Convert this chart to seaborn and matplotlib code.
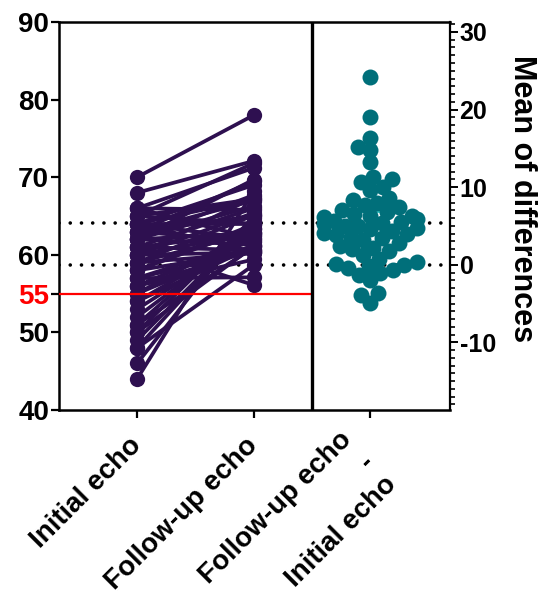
import numpy as np
import pandas as pd
import matplotlib
matplotlib.use("Agg")
import matplotlib.pyplot as plt
from matplotlib.ticker import MultipleLocator
from matplotlib.transforms import Affine2D
import seaborn as sns

# --------------------------------------------------
# DATA (paired echo values, one pair per patient)
# --------------------------------------------------

initial_echo = [44, 46, 48, 49, 50, 51, 50, 48, 52, 51, 53, 54,
                70, 55, 62, 54, 65, 60, 56, 58, 63, 59, 62, 55,
                66, 61, 57, 60, 64, 56, 58, 68, 59, 62, 57, 63,
                64, 60, 56, 65, 61, 58, 63, 59, 62, 64, 60, 66,
                57, 61, 65, 62, 63, 64, 66, 64, 61]

followup_echo = [68.2, 65.1, 64.4, 64.2, 64.8, 64.2, 61.1, 58.7, 63.3,
                 61.0, 62.6, 62.6, 78.0, 63.3, 69.7, 61.1, 71.8, 67.4,
                 62.3, 63.9, 69.5, 65.1, 67.7, 61.3, 71.2, 66.0, 61.8,
                 65.4, 69.0, 60.6, 63.5, 72.1, 62.9, 66.3, 60.6, 67.0,
                 67.2, 62.8, 59.4, 67.2, 62.8, 60.4, 65.0, 60.2, 62.8,
                 64.0, 60.3, 65.8, 57.1, 60.6, 64.0, 61.3, 61.7, 62.0,
                 62.1, 60.4, 56.1]

group_labels = ["Initial echo", "Follow-up echo",
                "Follow-up echo\n-\nInitial echo"]
cutoff = 55

purple = "#2e1050"
teal = "#006f7a"
cyan = "#3cc8c8"

# --------------------------------------------------
# STYLE
# --------------------------------------------------

sns.set_style("ticks")
plt.rcParams["font.family"] = ["Liberation Sans", "DejaVu Sans"]
plt.rcParams["font.weight"] = "bold"
for key in ["text.color", "axes.labelcolor", "xtick.color",
            "ytick.color", "axes.edgecolor"]:
    plt.rcParams[key] = "black"

initial = np.array(initial_echo, dtype=float)
followup = np.array(followup_echo, dtype=float)
diffs = followup - initial
n = len(initial)

df = pd.DataFrame({
    "subject": np.tile(np.arange(n), 2),
    "group": np.repeat([0, 1], n),
    "value": np.concatenate([initial, followup]),
})

x_lo, x_sep, x_hi = -0.67, 1.5, 2.68
y_lo, y_hi = 40, 90

fig = plt.figure(figsize=(5.4, 5.99), dpi=100)
ax = fig.add_axes([0.109, 0.3155, 0.724, 0.6477])

# mean lines of both groups (dotted)
for m in [initial.mean(), followup.mean()]:
    ax.axhline(m, color="black", lw=2.6, linestyle=(0, (0.01, 3.1)),
               dash_capstyle="round", zorder=1)

# paired lines
sns.lineplot(data=df, x="group", y="value", units="subject",
             estimator=None, color=purple, linewidth=2.7,
             marker="o", markersize=11, markeredgewidth=0,
             ax=ax, zorder=3)

# cut-off line
ax.hlines(cutoff, x_lo, x_sep, color="red", lw=1.6, zorder=4)
ax.axvline(x_sep, color="black", lw=2.4, zorder=5)

ax.set_xlim(x_lo, x_hi)
ax.set_ylim(y_lo, y_hi)
ax.set_yticks([40, 50, 55, 60, 70, 80, 90])
ax.set_yticklabels(["40", "50", "55", "60", "70", "80", "90"],
                   fontsize=20, fontweight="bold")
ax.get_yticklabels()[2].set_color("red")
ax.yaxis.get_major_ticks()[2].tick1line.set_visible(False)
ax.tick_params(axis="y", length=6, width=1.6, pad=1)

ax.set_xticks([0, 1, 2])
ax.tick_params(axis="x", length=6, width=1.6, pad=17)
ax.set_xticklabels(group_labels, fontsize=20, fontweight="bold",
                   rotation=45, ha="right", va="center",
                   rotation_mode="anchor", linespacing=1.28)
# the three-line label sits a bit lower in the original
ax.xaxis.get_major_ticks()[2].set_pad(29)
ax.set_xlabel("")
ax.set_ylabel("")

for side in ["left", "top", "bottom"]:
    ax.spines[side].set_linewidth(1.8)
ax.spines["right"].set_visible(False)

# --------------------------------------------------
# DIFFERENCES ON THE RIGHT AXIS
# --------------------------------------------------

ax2 = ax.twinx()
ci = 1.96 * diffs.std(ddof=1) / np.sqrt(n)
ax2.errorbar([2], [diffs.mean()], yerr=[ci], color=cyan, lw=1.6,
             capsize=14, capthick=1.6, zorder=1)

# swarm spacing is computed for slightly smaller dots, then the dots
# are drawn larger so they overlap like the original scatter
swarm_size = 8.8
sns.swarmplot(x=np.full(n, 2.0), y=diffs, native_scale=True,
              color=teal, size=swarm_size, linewidth=0, ax=ax2, zorder=3)
dots = ax2.collections[-1]
dots.set_paths([p.transformed(Affine2D().scale(11.5 / swarm_size))
                for p in dots.get_paths()])

ax2.set_xlim(x_lo, x_hi)
ax2.set_ylim(y_lo - initial.mean(), y_hi - initial.mean())
ax2.set_yticks([-10, 0, 10, 20, 30])
ax2.set_yticklabels(["-10", "0", "10", "20", "30"],
                    fontsize=18, fontweight="bold")
ax2.yaxis.set_minor_locator(MultipleLocator(1))
ax2.tick_params(axis="y", which="major", length=6, width=1.4, pad=1)
ax2.tick_params(axis="y", which="minor", length=3.5, width=1.2)
ax2.set_ylabel("Mean of differences", fontsize=22, fontweight="bold",
               rotation=-90)
ax2.yaxis.set_label_coords(1.185, 0.545)
ax2.yaxis.label.set_va("center")
ax2.spines["right"].set_linewidth(1.6)
for side in ["left", "top", "bottom"]:
    ax2.spines[side].set_visible(False)

fig.savefig("out.png", dpi=100)
